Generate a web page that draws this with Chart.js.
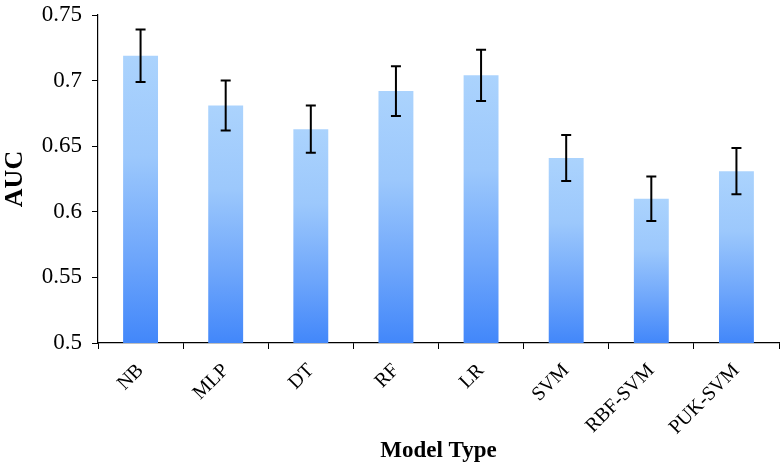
<!DOCTYPE html>
<html>
<head>
<meta charset="utf-8">
<script src="https://cdn.jsdelivr.net/npm/chart.js@4"></script>
<style>
  html, body { margin: 0; padding: 0; background: #ffffff; }
  #wrap { width: 783px; height: 468px; position: relative; }
</style>
</head>
<body>
<div id="wrap"><canvas id="c" width="783" height="468"></canvas></div>
<script>
const categories = ["NB", "MLP", "DT", "RF", "LR", "SVM", "RBF-SVM", "PUK-SVM"];
const aucValues = [0.719, 0.681, 0.663, 0.692, 0.704, 0.641, 0.610, 0.631];
const aucErrors = [0.020, 0.019, 0.018, 0.019, 0.0195, 0.0175, 0.017, 0.0177];
const yTickValues = [0.5, 0.55, 0.6, 0.65, 0.7, 0.75];

const FONT = "'Liberation Serif', 'Times New Roman', serif";

function barGradient(ctx) {
  const chart = ctx.chart;
  const yScale = chart.scales.y;
  if (!yScale || ctx.dataIndex === undefined) return '#7fb5fa';
  const v = ctx.dataset.data[ctx.dataIndex];
  const top = yScale.getPixelForValue(v);
  const bottom = yScale.getPixelForValue(yScale.min);
  if (!isFinite(top) || !isFinite(bottom) || top === bottom) return '#7fb5fa';
  const g = chart.ctx.createLinearGradient(0, top, 0, bottom);
  g.addColorStop(0, '#abd3fd');
  g.addColorStop(0.35, '#9cc8fc');
  g.addColorStop(0.7, '#6ea6fb');
  g.addColorStop(1, '#4287fa');
  return g;
}

const errorBarPlugin = {
  id: 'errorBars',
  afterDatasetsDraw(chart) {
    const ctx = chart.ctx;
    const meta = chart.getDatasetMeta(0);
    const yScale = chart.scales.y;
    ctx.save();
    ctx.strokeStyle = '#000000';
    ctx.lineWidth = 2;
    meta.data.forEach((bar, i) => {
      const v = aucValues[i], e = aucErrors[i];
      const x = bar.x;
      const yHi = yScale.getPixelForValue(v + e);
      const yLo = yScale.getPixelForValue(v - e);
      const cap = 5;
      ctx.beginPath();
      ctx.moveTo(x, yHi); ctx.lineTo(x, yLo);
      ctx.moveTo(x - cap, yHi); ctx.lineTo(x + cap, yHi);
      ctx.moveTo(x - cap, yLo); ctx.lineTo(x + cap, yLo);
      ctx.stroke();
    });
    ctx.restore();
  }
};

new Chart(document.getElementById('c'), {
  type: 'bar',
  data: {
    labels: categories,
    datasets: [{
      label: 'AUC',
      data: aucValues,
      backgroundColor: barGradient,
      borderWidth: 0,
      categoryPercentage: 0.82,
      barPercentage: 0.5
    }]
  },
  options: {
    responsive: false,
    animation: false,
    devicePixelRatio: 1,
    layout: { padding: { top: 15, right: 4, left: 0, bottom: 0 } },
    plugins: {
      legend: { display: false },
      tooltip: { enabled: false }
    },
    scales: {
      x: {
        grid: {
          display: true,
          offset: true,
          drawOnChartArea: false,
          drawTicks: true,
          tickLength: 6,
          color: '#000000',
          lineWidth: 1
        },
        border: { display: true, color: '#000000', width: 1.2 },
        ticks: {
          minRotation: 45,
          maxRotation: 45,
          color: '#000000',
          padding: 10,
          font: { family: FONT, size: 20 }
        },
        title: {
          display: true,
          text: 'Model Type',
          color: '#000000',
          font: { family: FONT, size: 23, weight: 'bold' },
          padding: { top: 2, bottom: 3 }
        },
        afterFit(scale) {
          scale.height = 125;
          scale.paddingLeft = 0;
          scale.paddingRight = 0;
        }
      },
      y: {
        min: 0.5,
        max: 0.75,
        afterBuildTicks(scale) {
          scale.ticks = yTickValues.map(v => ({ value: v }));
        },
        grid: {
          display: true,
          drawOnChartArea: false,
          drawTicks: true,
          tickLength: 6,
          color: '#000000',
          lineWidth: 1
        },
        border: { display: true, color: '#000000', width: 1.2 },
        ticks: {
          color: '#000000',
          padding: 10,
          font: { family: FONT, size: 23 },
          callback: (v) => String(Number(v.toFixed(2)))
        },
        title: {
          display: true,
          text: 'AUC',
          color: '#000000',
          font: { family: FONT, size: 26, weight: 'bold' },
          padding: { top: 0, bottom: 2 }
        },
        afterFit(scale) {
          scale.width = 98;
          scale.paddingTop = 0;
          scale.paddingBottom = 0;
        }
      }
    }
  },
  plugins: [errorBarPlugin]
});
</script>
</body>
</html>
